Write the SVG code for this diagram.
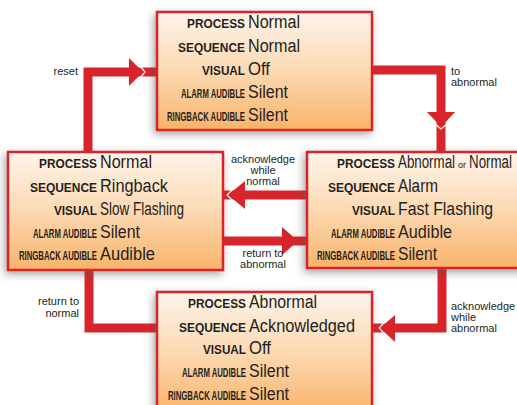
<svg xmlns="http://www.w3.org/2000/svg" width="517" height="405" viewBox="0 0 517 405">
<defs>
<linearGradient id="boxg" x1="0" y1="0" x2="0" y2="1">
<stop offset="0" stop-color="#fef4ea"/>
<stop offset="0.5" stop-color="#fcd9b2"/>
<stop offset="1" stop-color="#f9b36a"/>
</linearGradient>
<filter id="sh" x="-10%" y="-10%" width="120%" height="125%">
<feDropShadow dx="-2" dy="3" stdDeviation="4.5" flood-color="#555" flood-opacity="0.55"/>
</filter>
<style>
.box{fill:url(#boxg);stroke:#d9242b;stroke-width:2.5}
.k{font-family:"Liberation Sans",Arial,sans-serif;font-weight:bold;font-size:12px;fill:#231f20;text-anchor:end}
.v{font-family:"Liberation Sans",Arial,sans-serif;font-size:18px;fill:#231f20}
.o{font-family:"Liberation Sans",Arial,sans-serif;font-size:9px;fill:#231f20}
.c{fill:none;stroke:#d9242b;stroke-width:9}
.ah{fill:#d9242b}
.nt{fill:none;stroke:#fff;stroke-width:1.2}
.lb{font-family:"Liberation Sans",Arial,sans-serif;font-size:11px;fill:#231f20}
</style>
</defs>
<rect width="517" height="405" fill="#fff"/>
<g id="connectors">
<path class="c" d="M88,152 V72 H157"/>
<polygon class="ah" points="129,58 143,72 129,86"/>
<polyline class="nt" points="140,66 145,72 140,78"/>
<path class="c" d="M372,70 H441 V152"/>
<polygon class="ah" points="427,112 455,112 441,127"/>
<polyline class="nt" points="435,124 441,129 447,124"/>
<path class="c" d="M307,195 H223"/>
<polygon class="ah" points="245,181 245,209 228,195"/>
<polyline class="nt" points="233,189 227,195 233,201"/>
<path class="c" d="M223,241 H307"/>
<polygon class="ah" points="282,227 282,255 298,241"/>
<path class="c" d="M89,270 V328 H157"/>
<path class="c" d="M442,268 V328 H372"/>
<polygon class="ah" points="395,315 395,342 380,328"/>
<polyline class="nt" points="385,322 379,328 385,334"/>
<text class="lb" x="78" y="75" text-anchor="end">reset</text>
<text class="lb" x="451" y="75">to</text>
<text class="lb" x="451" y="86">abnormal</text>
<text class="lb" x="263" y="163" text-anchor="middle">acknowledge</text>
<text class="lb" x="263" y="174" text-anchor="middle">while</text>
<text class="lb" x="263" y="185" text-anchor="middle">normal</text>
<text class="lb" x="263" y="257" text-anchor="middle">return to</text>
<text class="lb" x="263" y="268" text-anchor="middle">abnormal</text>
<text class="lb" x="79" y="305" text-anchor="end">return to</text>
<text class="lb" x="79" y="317" text-anchor="end">normal</text>
<text class="lb" x="451" y="310">acknowledge</text>
<text class="lb" x="451" y="321">while</text>
<text class="lb" x="451" y="332">abnormal</text>
</g>
<g id="state-normal">
<rect class="box" x="157" y="12" width="215" height="118" filter="url(#sh)"/>
<text class="k" x="245" y="28" textLength="58" lengthAdjust="spacingAndGlyphs">PROCESS</text>
<text class="v" x="248" y="28" textLength="52" lengthAdjust="spacingAndGlyphs">Normal</text>
<text class="k" x="245" y="52" textLength="67" lengthAdjust="spacingAndGlyphs">SEQUENCE</text>
<text class="v" x="248" y="52" textLength="52" lengthAdjust="spacingAndGlyphs">Normal</text>
<text class="k" x="245" y="75" textLength="43" lengthAdjust="spacingAndGlyphs">VISUAL</text>
<text class="v" x="248" y="75" textLength="22" lengthAdjust="spacingAndGlyphs">Off</text>
<text class="k" x="245" y="98" textLength="64" lengthAdjust="spacingAndGlyphs">ALARM AUDIBLE</text>
<text class="v" x="248" y="98" textLength="40" lengthAdjust="spacingAndGlyphs">Silent</text>
<text class="k" x="245" y="121" textLength="78" lengthAdjust="spacingAndGlyphs">RINGBACK AUDIBLE</text>
<text class="v" x="248" y="121" textLength="40" lengthAdjust="spacingAndGlyphs">Silent</text>
</g>
<g id="state-ringback">
<rect class="box" x="8" y="152" width="215" height="118" filter="url(#sh)"/>
<text class="k" x="97" y="168" textLength="58" lengthAdjust="spacingAndGlyphs">PROCESS</text>
<text class="v" x="100" y="168" textLength="52" lengthAdjust="spacingAndGlyphs">Normal</text>
<text class="k" x="97" y="192" textLength="67" lengthAdjust="spacingAndGlyphs">SEQUENCE</text>
<text class="v" x="100" y="192" textLength="68" lengthAdjust="spacingAndGlyphs">Ringback</text>
<text class="k" x="97" y="215" textLength="43" lengthAdjust="spacingAndGlyphs">VISUAL</text>
<text class="v" x="100" y="215" textLength="84" lengthAdjust="spacingAndGlyphs">Slow Flashing</text>
<text class="k" x="97" y="238" textLength="64" lengthAdjust="spacingAndGlyphs">ALARM AUDIBLE</text>
<text class="v" x="100" y="238" textLength="40" lengthAdjust="spacingAndGlyphs">Silent</text>
<text class="k" x="97" y="260" textLength="78" lengthAdjust="spacingAndGlyphs">RINGBACK AUDIBLE</text>
<text class="v" x="100" y="260" textLength="55" lengthAdjust="spacingAndGlyphs">Audible</text>
</g>
<g id="state-alarm">
<rect class="box" x="307" y="152" width="220" height="116" filter="url(#sh)"/>
<text class="k" x="395" y="168" textLength="58" lengthAdjust="spacingAndGlyphs">PROCESS</text>
<text class="v" x="398" y="168" textLength="57" lengthAdjust="spacingAndGlyphs">Abnormal</text>
<text class="o" x="458" y="168" textLength="8" lengthAdjust="spacingAndGlyphs">or</text>
<text class="v" x="469" y="168" textLength="43" lengthAdjust="spacingAndGlyphs">Normal</text>
<text class="k" x="395" y="192" textLength="67" lengthAdjust="spacingAndGlyphs">SEQUENCE</text>
<text class="v" x="398" y="192" textLength="40" lengthAdjust="spacingAndGlyphs">Alarm</text>
<text class="k" x="395" y="215" textLength="43" lengthAdjust="spacingAndGlyphs">VISUAL</text>
<text class="v" x="398" y="215" textLength="95" lengthAdjust="spacingAndGlyphs">Fast Flashing</text>
<text class="k" x="395" y="238" textLength="64" lengthAdjust="spacingAndGlyphs">ALARM AUDIBLE</text>
<text class="v" x="398" y="238" textLength="54" lengthAdjust="spacingAndGlyphs">Audible</text>
<text class="k" x="395" y="260" textLength="78" lengthAdjust="spacingAndGlyphs">RINGBACK AUDIBLE</text>
<text class="v" x="398" y="260" textLength="39" lengthAdjust="spacingAndGlyphs">Silent</text>
</g>
<g id="state-acknowledged">
<rect class="box" x="157" y="292" width="215" height="122" filter="url(#sh)"/>
<text class="k" x="246" y="308" textLength="58" lengthAdjust="spacingAndGlyphs">PROCESS</text>
<text class="v" x="249" y="308" textLength="68" lengthAdjust="spacingAndGlyphs">Abnormal</text>
<text class="k" x="246" y="332" textLength="67" lengthAdjust="spacingAndGlyphs">SEQUENCE</text>
<text class="v" x="249" y="332" textLength="106" lengthAdjust="spacingAndGlyphs">Acknowledged</text>
<text class="k" x="246" y="354" textLength="43" lengthAdjust="spacingAndGlyphs">VISUAL</text>
<text class="v" x="249" y="354" textLength="22" lengthAdjust="spacingAndGlyphs">Off</text>
<text class="k" x="246" y="377" textLength="64" lengthAdjust="spacingAndGlyphs">ALARM AUDIBLE</text>
<text class="v" x="249" y="377" textLength="40" lengthAdjust="spacingAndGlyphs">Silent</text>
<text class="k" x="246" y="400" textLength="78" lengthAdjust="spacingAndGlyphs">RINGBACK AUDIBLE</text>
<text class="v" x="249" y="400" textLength="40" lengthAdjust="spacingAndGlyphs">Silent</text>
</g>
</svg>
